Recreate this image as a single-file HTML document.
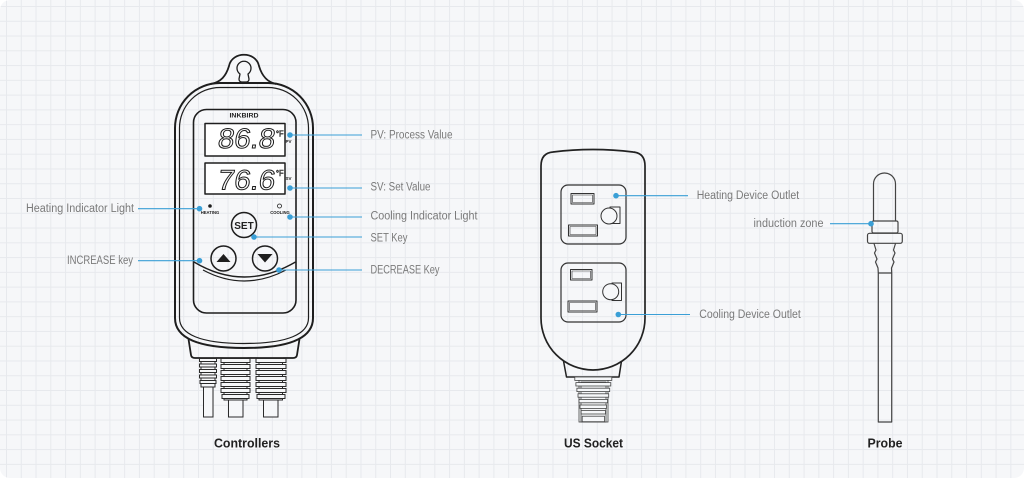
<!DOCTYPE html>
<html><head><meta charset="utf-8"><style>
html,body{margin:0;padding:0;background:#fff;}
svg{display:block}
.lbl{font-family:"Liberation Sans","Noto Sans CJK SC",sans-serif;font-size:11.5px;fill:#7a7a7a}
.ttl{font-family:"Liberation Sans","Noto Sans CJK SC",sans-serif;font-size:13px;font-weight:bold;fill:#222}
.tiny{font-family:"Liberation Sans",sans-serif;font-weight:bold;fill:#222}
</style></head><body>
<svg width="1024" height="478" viewBox="0 0 1024 478" xmlns="http://www.w3.org/2000/svg">
<defs>
<pattern id="g" x="6" y="6" width="14.77" height="14.77" patternUnits="userSpaceOnUse">
<path d="M0 0.5H14.77M0.5 0V14.77" stroke="#e7e9ed" stroke-width="1" fill="none"/>
</pattern>
</defs>
<rect x="0" y="0" width="1024" height="478" rx="10" fill="#f6f7f9"/>
<rect x="0" y="0" width="1024" height="478" rx="10" fill="url(#g)"/>

<!-- ============ CONTROLLER ============ -->
<g fill="none" stroke="#1e1e1e" stroke-linejoin="round">
  <path d="M211 84 C221 82,226 76,229 66 C232 51,256 51,259 66 C262 76,267 82,276 84" stroke-width="1.8" fill="#f6f7f9"/>
  <path d="M240 74 A7 7 0 1 1 248 74 L249 79 Q249 82 246 82 L242 82 Q239 82 239 79 Z" stroke-width="1.3"/>
  <path d="M175 128 A45 45 0 0 1 220 83 L268 83 A45 45 0 0 1 313 128 L313 318 C313 338,290 348,244 348 C198 348,175 338,175 318 Z" stroke-width="2"/>
  <path d="M179.5 128 A40.5 40.5 0 0 1 220 87.5 L268 87.5 A40.5 40.5 0 0 1 308.5 128 L308.5 318 C308.5 334,288 343.5,244 343.5 C200 343.5,179.5 334,179.5 318 Z" stroke-width="1.2"/>
  <path d="M188.5 339 L191 355 Q191.5 358 195 358 L293 358 Q296.5 358 297 355 L299.5 339" stroke-width="1.8"/>
  <rect x="193.5" y="109.5" width="102.5" height="203.5" rx="13" stroke-width="1.6"/>
  <rect x="205" y="123.5" width="80" height="32.5" fill="#fff" stroke-width="1.5"/>
  <rect x="205" y="163" width="80" height="31" fill="#fff" stroke-width="1.5"/>
  <circle cx="244" cy="225" r="12.5" stroke-width="1.5"/>
  <circle cx="223.5" cy="258.5" r="12.5" stroke-width="1.5"/>
  <circle cx="265" cy="258.5" r="12.5" stroke-width="1.5"/>
  <path d="M194 262 Q244 292 295.5 262" stroke-width="1.4"/>
  <path d="M203 270 Q244 292 286 270" stroke-width="1.2"/>
  <circle cx="279.5" cy="206" r="2" stroke-width="0.8"/>
</g>
<polygon points="216.5,262 230.5,262 223.5,254" fill="#1e1e1e"/>
<polygon points="257.5,254 272.5,254 265,262.5" fill="#1e1e1e"/>
<circle cx="210" cy="206" r="1.8" fill="#1e1e1e"/>
<text x="244" y="117.5" text-anchor="middle" class="tiny" font-size="6" textLength="29" lengthAdjust="spacingAndGlyphs">INKBIRD</text>
<text x="244" y="229" text-anchor="middle" class="tiny" font-size="10">SET</text>
<text x="210" y="214" text-anchor="middle" class="tiny" font-size="4.2">HEATING</text>
<text x="280" y="214" text-anchor="middle" class="tiny" font-size="4.2">COOLING</text>
<text x="288.5" y="143" text-anchor="middle" class="tiny" font-size="4.5">PV</text>
<text x="288.5" y="180" text-anchor="middle" class="tiny" font-size="4.5">SV</text>
<g transform="translate(217 148) skewX(-8)">
<text x="0" y="0" font-family="Liberation Sans, sans-serif" font-size="28" fill="#fff" stroke="#1e1e1e" stroke-width="1" textLength="57" lengthAdjust="spacingAndGlyphs">86.8</text>
</g>
<text x="276" y="136.5" font-family="Liberation Sans, sans-serif" font-size="8" fill="#fff" stroke="#1e1e1e" stroke-width="0.6" textLength="7.5" lengthAdjust="spacingAndGlyphs">°F</text>
<g transform="translate(217 189.5) skewX(-8)">
<text x="0" y="0" font-family="Liberation Sans, sans-serif" font-size="28" fill="#fff" stroke="#1e1e1e" stroke-width="1" textLength="57" lengthAdjust="spacingAndGlyphs">76.6</text>
</g>
<text x="276" y="176" font-family="Liberation Sans, sans-serif" font-size="8" fill="#fff" stroke="#1e1e1e" stroke-width="0.6" textLength="7.5" lengthAdjust="spacingAndGlyphs">°F</text>

<g fill="#f6f7f9" stroke="#2a2a2a" stroke-width="1">
  <rect x="203.5" y="386" width="9.5" height="31"/>
  <rect x="201" y="358" width="14" height="29"/>
  <rect x="199.5" y="358.5" width="17" height="3"/>
  <rect x="199.5" y="364" width="17" height="3"/>
  <rect x="199.5" y="369.5" width="17" height="3"/>
  <rect x="199.5" y="375" width="17" height="3"/>
  <rect x="200" y="380.5" width="16" height="3"/>
  <rect x="228.5" y="399" width="14.5" height="18"/>
  <rect x="224" y="358" width="23" height="42"/>
  <rect x="221" y="358.5" width="29" height="4"/>
  <rect x="221" y="364.5" width="29" height="4"/>
  <rect x="221" y="370.5" width="29" height="4"/>
  <rect x="221" y="376.5" width="29" height="4"/>
  <rect x="221" y="382.5" width="29" height="4"/>
  <rect x="221" y="388.5" width="29" height="4"/>
  <rect x="222" y="394.5" width="27" height="4"/>
  <rect x="263.5" y="399" width="14.5" height="18"/>
  <rect x="259" y="358" width="23.5" height="42"/>
  <rect x="256" y="358.5" width="30" height="4"/>
  <rect x="256" y="364.5" width="30" height="4"/>
  <rect x="256" y="370.5" width="30" height="4"/>
  <rect x="256" y="376.5" width="30" height="4"/>
  <rect x="256" y="382.5" width="30" height="4"/>
  <rect x="256" y="388.5" width="30" height="4"/>
  <rect x="257" y="394.5" width="28" height="4"/>
</g>

<!-- ============ SOCKET ============ -->
<g fill="none" stroke="#222" stroke-linejoin="round">
  <path d="M541 166 Q541 153 553 152 Q593 147 633 152 Q645 153 645 166 L645 318 A52 52 0 0 1 541 318 Z" stroke-width="1.7"/>
  <path d="M563.5 361 L566.5 377 L619 377 L621.5 361" stroke-width="1.5"/>
  <rect x="561" y="185" width="65" height="59" rx="7" stroke-width="1.2" stroke="#333"/>
  <rect x="561" y="263" width="65" height="59" rx="7" stroke-width="1.2" stroke="#333"/>
  <g stroke="#333" stroke-width="1">
    <rect x="571" y="193.5" width="23" height="10.5"/>
    <rect x="572.5" y="195" width="20" height="7.5" stroke-width="0.6"/>
    <rect x="568.5" y="225" width="29" height="11"/>
    <rect x="570" y="226.5" width="26" height="8" stroke-width="0.6"/>
    <rect x="570.5" y="269.5" width="21.5" height="10.5"/>
    <rect x="572" y="271" width="18.5" height="7.5" stroke-width="0.6"/>
    <rect x="568" y="301" width="29" height="11"/>
    <rect x="569.5" y="302.5" width="26" height="8" stroke-width="0.6"/>
    <rect x="610" y="207" width="10" height="16.5"/>
    <circle cx="609" cy="216" r="8" fill="#f6f7f9"/>
    <rect x="612" y="283" width="9.5" height="17.5"/>
    <circle cx="610.7" cy="291.7" r="8" fill="#f6f7f9"/>
  </g>
</g>
<g fill="#f6f7f9" stroke="#444" stroke-width="0.8">
  <rect x="579" y="377" width="29" height="45"/>
  <rect x="581" y="382" width="25" height="40"/>
  <rect x="574.8" y="377" width="37" height="3.4"/>
  <rect x="575.9" y="382.6" width="34.9" height="3.4"/>
  <rect x="576.9" y="388.2" width="32.8" height="3.4"/>
  <rect x="578" y="393.8" width="30.7" height="3.4"/>
  <rect x="579" y="399.4" width="28.6" height="3.4"/>
  <rect x="580" y="405" width="26.5" height="3.4"/>
  <rect x="581.1" y="410.6" width="24.4" height="3.4"/>
  <rect x="582.2" y="416.2" width="22.3" height="5.5"/>
</g>

<!-- ============ PROBE ============ -->
<g fill="none" stroke="#444" stroke-width="1.2" stroke-linejoin="round">
  <path d="M873.5 221 L873.5 184 A11 11 0 0 1 895.5 184 L895.5 221"/>
  <rect x="872" y="221" width="26" height="12" rx="1.5"/>
  <rect x="867.5" y="233.3" width="34.8" height="10" rx="2"/>
  <path d="M874 243.5 L876 250 L874.5 253 L877 259 L875.5 262 L878 268 L878.3 273"/>
  <path d="M895.5 243.5 L893.5 250 L895 253 L892.5 259 L894 262 L891.5 268 L891.7 273"/>
  <rect x="878.3" y="273" width="13.4" height="149"/>
</g>

<!-- ============ CONNECTORS ============ -->
<g stroke="#3a9fd6" stroke-width="1.1">
  <line x1="290" y1="135" x2="362" y2="135"/>
  <line x1="290" y1="188" x2="362" y2="188"/>
  <line x1="290" y1="217" x2="362" y2="217"/>
  <line x1="254" y1="237" x2="362" y2="237"/>
  <line x1="279" y1="270" x2="362" y2="270"/>
  <line x1="138" y1="208.7" x2="199" y2="208.7"/>
  <line x1="138" y1="260.7" x2="199" y2="260.7"/>
  <line x1="616" y1="195.7" x2="688" y2="195.7"/>
  <line x1="618.3" y1="314.5" x2="690" y2="314.5"/>
  <line x1="830" y1="223.7" x2="871" y2="223.7"/>
</g>
<g fill="#3a9fd6">
  <circle cx="290" cy="135" r="2.8"/>
  <circle cx="290" cy="188" r="2.8"/>
  <circle cx="290" cy="217" r="2.8"/>
  <circle cx="254" cy="237" r="2.8"/>
  <circle cx="279" cy="270" r="2.8"/>
  <circle cx="199.5" cy="208.7" r="2.8"/>
  <circle cx="199.5" cy="260.7" r="2.8"/>
  <circle cx="616" cy="195.7" r="2.8"/>
  <circle cx="618.3" cy="314.5" r="2.8"/>
  <circle cx="871" cy="223.7" r="2.8"/>
</g>

<!-- ============ LABELS ============ -->
<text class="lbl" x="370.5" y="138.3" textLength="82" lengthAdjust="spacingAndGlyphs">PV: Process Value</text>
<text class="lbl" x="370.5" y="190.5" textLength="60" lengthAdjust="spacingAndGlyphs">SV: Set Value</text>
<text class="lbl" x="370.5" y="219.5" textLength="107" lengthAdjust="spacingAndGlyphs">Cooling Indicator Light</text>
<text class="lbl" x="370.5" y="241.5" textLength="37" lengthAdjust="spacingAndGlyphs">SET Key</text>
<text class="lbl" x="370.5" y="273.5" textLength="69" lengthAdjust="spacingAndGlyphs">DECREASE Key</text>
<text class="lbl" x="26" y="212" textLength="108" lengthAdjust="spacingAndGlyphs">Heating Indicator Light</text>
<text class="lbl" x="67" y="264" textLength="66" lengthAdjust="spacingAndGlyphs">INCREASE key</text>
<text class="lbl" x="696.7" y="199" textLength="102.5" lengthAdjust="spacingAndGlyphs">Heating Device Outlet</text>
<text class="lbl" x="699.3" y="318" textLength="101.5" lengthAdjust="spacingAndGlyphs">Cooling Device Outlet</text>
<text class="lbl" x="753.5" y="227" textLength="70" lengthAdjust="spacingAndGlyphs">induction zone</text>

<text class="ttl" x="214" y="447.7" textLength="66" lengthAdjust="spacingAndGlyphs">Controllers</text>
<text class="ttl" x="564" y="447.7" textLength="59" lengthAdjust="spacingAndGlyphs">US Socket</text>
<text class="ttl" x="867.5" y="447.7" textLength="35" lengthAdjust="spacingAndGlyphs">Probe</text>
</svg>
</body></html>
